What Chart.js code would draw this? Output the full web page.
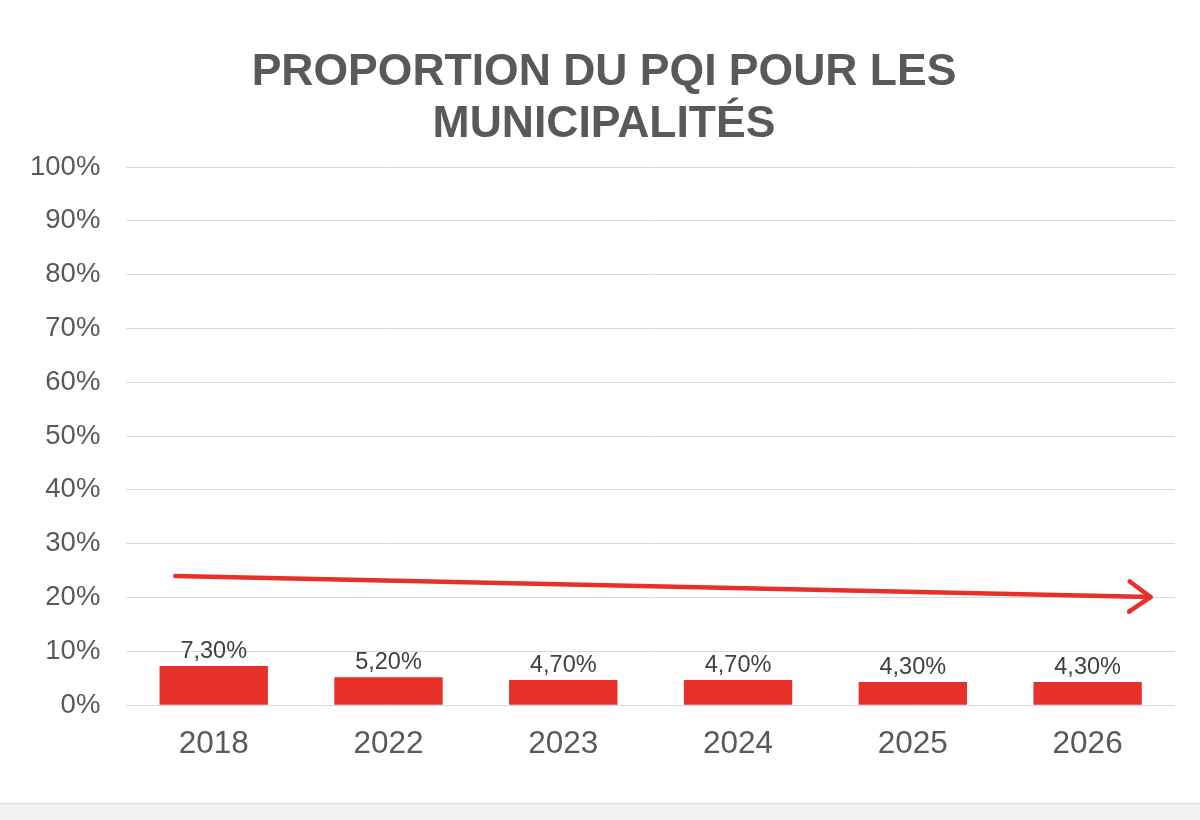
<!DOCTYPE html>
<html>
<head>
<meta charset="utf-8">
<script src="https://cdn.jsdelivr.net/npm/chart.js@4.4.1/dist/chart.umd.min.js"></script>
<style>
html,body{margin:0;padding:0;background:#fff;}
#wrap{position:relative;width:1200px;height:803px;}
#band{width:1200px;height:16px;background:#f2f2f2;border-top:1px solid #dcdcdc;}
</style>
</head>
<body>
<div id="wrap"><canvas id="c" width="1200" height="803"></canvas></div>
<div id="band"></div>
<script>
const categories = ["2018", "2022", "2023", "2024", "2025", "2026"];
const values = [7.3, 5.2, 4.7, 4.7, 4.3, 4.3];
const valueLabels = ["7,30%", "5,20%", "4,70%", "4,70%", "4,30%", "4,30%"];
const yTicks = [0, 10, 20, 30, 40, 50, 60, 70, 80, 90, 100];
const titleLines = ['PROPORTION DU PQI POUR LES', 'MUNICIPALITÉS'];
const arrowX = [-0.22, 5.36];
const arrowY = [24.0, 20.1];

const RED = '#e8302a';

const titlePlugin = {
  id: 'customTitle',
  afterDraw(chart) {
    const ctx = chart.ctx;
    ctx.save();
    ctx.font = 'bold 44.5px "Liberation Sans", Arial, sans-serif';
    ctx.fillStyle = '#595959';
    ctx.textAlign = 'center';
    ctx.textBaseline = 'alphabetic';
    ctx.fillText(titleLines[0], 604, 85);
    ctx.fillText(titleLines[1], 604, 137);
    ctx.restore();
  }
};

const labelPlugin = {
  id: 'valueLabels',
  afterDatasetsDraw(chart) {
    const ctx = chart.ctx;
    const meta = chart.getDatasetMeta(0);
    ctx.save();
    ctx.font = '23.5px "Liberation Sans", Arial, sans-serif';
    ctx.fillStyle = '#404040';
    ctx.textAlign = 'center';
    ctx.textBaseline = 'bottom';
    meta.data.forEach((bar, i) => {
      ctx.fillText(valueLabels[i], bar.x, bar.y - 3);
    });
    ctx.restore();
  }
};

const arrowPlugin = {
  id: 'arrow',
  afterDatasetsDraw(chart) {
    const xs = chart.scales.x, ys = chart.scales.y;
    const x1 = xs.getPixelForValue(arrowX[0]), y1 = ys.getPixelForValue(arrowY[0]);
    const x2 = xs.getPixelForValue(arrowX[1]), y2 = ys.getPixelForValue(arrowY[1]);
    const ctx = chart.ctx;
    ctx.save();
    ctx.strokeStyle = RED;
    ctx.lineWidth = 4.5;
    ctx.lineCap = 'round';
    ctx.lineJoin = 'round';
    ctx.beginPath();
    ctx.moveTo(x1, y1);
    ctx.lineTo(x2, y2);
    ctx.stroke();
    const ang = Math.atan2(y2 - y1, x2 - x1);
    const len = 26, spread = 0.62;
    ctx.beginPath();
    ctx.moveTo(x2 - len * Math.cos(ang - spread), y2 - len * Math.sin(ang - spread));
    ctx.lineTo(x2, y2);
    ctx.lineTo(x2 - len * Math.cos(ang + spread), y2 - len * Math.sin(ang + spread));
    ctx.stroke();
    ctx.restore();
  }
};

const bgPlugin = {
  id: 'bg',
  beforeDraw(chart) {
    const ctx = chart.ctx;
    ctx.save();
    ctx.fillStyle = '#fff';
    ctx.fillRect(0, 0, chart.width, chart.height);
    ctx.restore();
  }
};

new Chart(document.getElementById('c'), {
  type: 'bar',
  data: {
    labels: categories,
    datasets: [{
      data: values,
      backgroundColor: RED,
      categoryPercentage: 1.0,
      barPercentage: 0.62
    }]
  },
  options: {
    responsive: false,
    animation: false,
    layout: { padding: { left: 4, right: 25, top: 167, bottom: 28 } },
    plugins: {
      legend: { display: false },
      tooltip: { enabled: false },
      title: { display: false }
    },
    scales: {
      x: {
        grid: { display: false },
        border: { display: false },
        ticks: {
          color: '#595959',
          font: { family: '"Liberation Sans", Arial, sans-serif', size: 31.5 },
          padding: 12
        }
      },
      y: {
        min: 0,
        max: 100,
        afterBuildTicks(scale) { scale.ticks = yTicks.map(v => ({ value: v })); },
        grid: { color: '#d9d9d9', lineWidth: 1, drawTicks: false },
        border: { display: false },
        ticks: {
          color: '#595959',
          font: { family: '"Liberation Sans", Arial, sans-serif', size: 27.5 },
          padding: 26,
          callback: v => v + '%'
        }
      }
    }
  },
  plugins: [bgPlugin, labelPlugin, arrowPlugin, titlePlugin]
});
</script>
</body>
</html>
